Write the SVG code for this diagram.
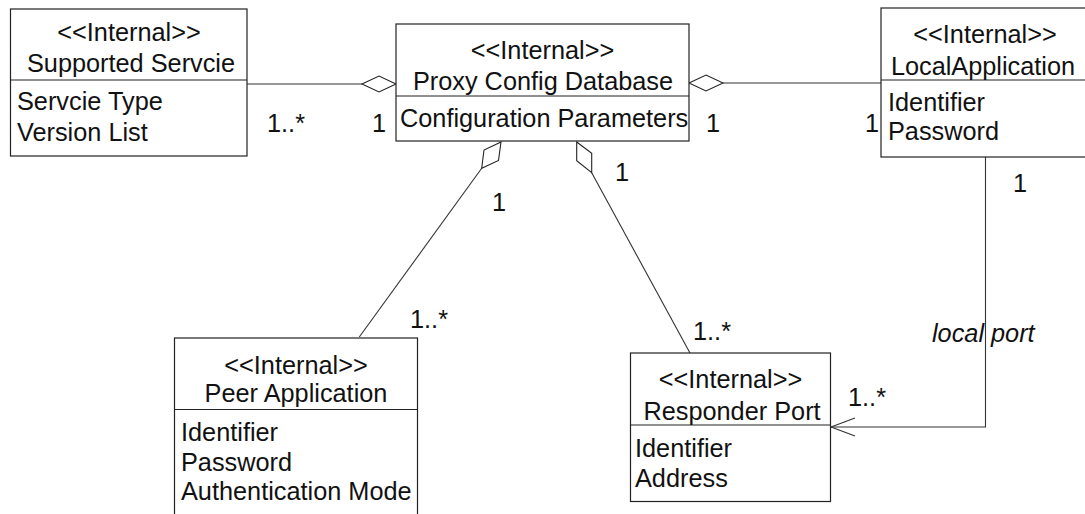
<svg xmlns="http://www.w3.org/2000/svg" width="1085" height="514" viewBox="0 0 1085 514">
<style>
.box{fill:#fff;stroke:#222;stroke-width:1.2}
.div{stroke:#222;stroke-width:1.2}
.ln{fill:none;stroke:#333;stroke-width:1.1}
.dia{fill:#fff;stroke:#222;stroke-width:1.1}
text{font-family:"Liberation Sans",Arial,sans-serif;font-size:25.3px;fill:#111}
.c{text-anchor:middle}
.it{font-style:italic}
</style>
<rect width="1085" height="514" fill="#fff"/>
<g id="connectors">
<line class="ln" x1="247" y1="84" x2="362" y2="84"/>
<polygon class="dia" points="362,84 379,76 396,84 379,92"/>
<line class="ln" x1="723" y1="83" x2="881" y2="83"/>
<polygon class="dia" points="689,83 706,75 723,83 706,91"/>
<line class="ln" x1="481.7" y1="168.3" x2="359.3" y2="337"/>
<polygon class="dia" points="501,142 498.5,160.5 481.7,168.3 484,150"/>
<line class="ln" x1="591.7" y1="172.7" x2="690" y2="353"/>
<polygon class="dia" points="576.7,142 591.7,153.3 591.7,172.7 576.7,160.7"/>
<polyline class="ln" points="985.5,157 985.5,427 831,427"/>
<polyline class="ln" points="855,418 831,427 855,436"/>
<text x="267" y="132">1..*</text>
<text x="372" y="132">1</text>
<text x="706" y="132">1</text>
<text x="865" y="132">1</text>
<text x="1013" y="192">1</text>
<text x="492" y="211">1</text>
<text x="615" y="181">1</text>
<text x="410" y="328">1..*</text>
<text x="693" y="340">1..*</text>
<text x="848" y="406">1..*</text>
<text class="it" x="932" y="342">local port</text>
</g>
<g id="supported-servcie">
<rect class="box" x="10.5" y="9" width="236.5" height="147"/>
<line class="div" x1="10.5" y1="80" x2="247" y2="80"/>
<text class="c" x="129" y="41">&lt;&lt;Internal&gt;&gt;</text>
<text class="c" x="131" y="72">Supported Servcie</text>
<text x="17" y="110">Servcie Type</text>
<text x="17" y="141">Version List</text>
</g>
<g id="proxy-config-database">
<rect class="box" x="396" y="24" width="293" height="117"/>
<line class="div" x1="396" y1="96" x2="689" y2="96"/>
<text class="c" x="542.5" y="59">&lt;&lt;Internal&gt;&gt;</text>
<text class="c" x="543" y="90">Proxy Config Database</text>
<text x="400" y="127">Configuration Parameters</text>
</g>
<g id="local-application">
<rect class="box" x="881" y="8" width="220" height="149"/>
<line class="div" x1="881" y1="80" x2="1101" y2="80"/>
<text class="c" x="985" y="43">&lt;&lt;Internal&gt;&gt;</text>
<text class="c" x="983" y="75">LocalApplication</text>
<text x="888" y="111">Identifier</text>
<text x="888" y="140">Password</text>
</g>
<g id="peer-application">
<rect class="box" x="174.5" y="338" width="243" height="190"/>
<line class="div" x1="174.5" y1="409.5" x2="417.5" y2="409.5"/>
<text class="c" x="296" y="374">&lt;&lt;Internal&gt;&gt;</text>
<text class="c" x="296" y="402">Peer Application</text>
<text x="181" y="441">Identifier</text>
<text x="181" y="471">Password</text>
<text x="181" y="500">Authentication Mode</text>
</g>
<g id="responder-port">
<rect class="box" x="630.5" y="353" width="200" height="148.5"/>
<line class="div" x1="630.5" y1="425" x2="830.5" y2="425"/>
<text class="c" x="730.5" y="388">&lt;&lt;Internal&gt;&gt;</text>
<text class="c" x="732" y="420">Responder Port</text>
<text x="635" y="457">Identifier</text>
<text x="635" y="487">Address</text>
</g>
</svg>
